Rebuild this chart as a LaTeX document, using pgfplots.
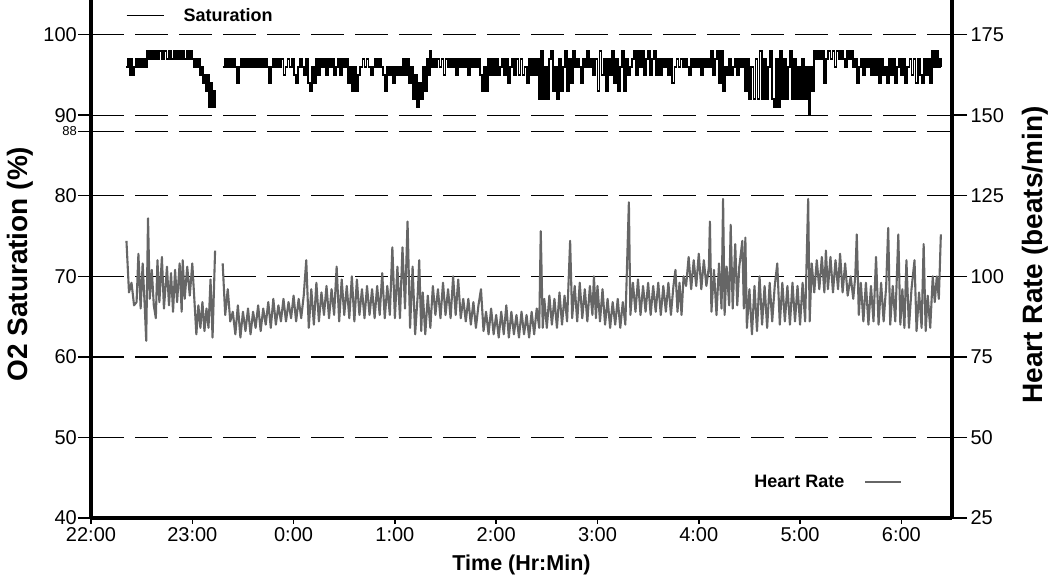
\documentclass[border=0pt]{standalone}
\usepackage{fontspec}
\setmainfont{Liberation Sans}
\usepackage{pgfplots}
\pgfplotsset{compat=1.18}

\begin{document}
\begin{tikzpicture}
\useasboundingbox (0,0) rectangle (1050pt,577pt);

% left axis: saturation, dashed reference lines
\begin{axis}[
  at={(91pt,59pt)}, anchor=south west,
  scale only axis, width=861pt, height=518pt,
  xmin=0, xmax=8.5, ymin=40, ymax=104.3,
  axis x line=none, xtick=\empty,
  axis y line*=left,
  axis line style={line width=3.2pt, -},
  ytick={40,50,...,100},
  extra y ticks={88},
  extra y tick style={grid=major, tick label style={font=\fontsize{13}{14}\selectfont}},
  ymajorgrids,
  major grid style={black, line width=1.3pt, dash pattern=on 33pt off 11pt},
  tick align=outside, major tick length=13pt,
  tick style={black, line width=1.5pt},
  tick label style={font=\fontsize{20}{22}\selectfont},
  yticklabel style={inner sep=1pt},
  /pgf/number format/assume math mode=true,
  ylabel={O2 Saturation (\%)},
  ylabel style={font=\bfseries\fontsize{28}{30}\selectfont, at={(axis description cs:-0.0825,0.49)}, anchor=center},
  unbounded coords=jump,
  legend style={at={(axis description cs:0.0407,0.970)}, anchor=west, draw=none, fill=none,
    inner sep=0pt, outer sep=0pt, nodes={inner sep=0pt}, font=\bfseries\fontsize{18}{20}\selectfont},
  legend image code/.code={\draw[#1, line width=1.3pt] (0pt,0pt) -- (37pt,0pt); \path[draw=none] (0pt,0pt) -- (57pt,0pt);},
]
\addplot[const plot, black, line width=1.9pt] coordinates {
(0.350,96) (0.365,97) (0.380,95) (0.395,97) (0.410,95) (0.425,96) (0.440,97) (0.460,96) (0.480,97) (0.500,96)
(0.520,97) (0.540,96) (0.555,98) (0.575,97) (0.595,98) (0.615,97) (0.635,98) (0.655,97) (0.675,98) (0.700,97)
(0.720,98) (0.745,97) (0.770,98) (0.790,97) (0.815,98) (0.840,97) (0.860,98) (0.880,97) (0.900,98) (0.920,97)
(0.945,98) (0.965,97) (0.985,98) (1.000,97) (1.015,96) (1.030,97) (1.045,96) (1.060,97) (1.075,95) (1.090,96)
(1.105,94) (1.120,95) (1.135,93) (1.150,95) (1.165,91) (1.180,94) (1.195,91) (1.210,93) (1.225,91) (1.235,91)
(1.260,nan)
(1.30,96) (1.32,97) (1.34,96) (1.36,97) (1.38,96) (1.40,97) (1.42,96) (1.44,94) (1.46,96) (1.48,97)
(1.50,96) (1.52,97) (1.54,96) (1.56,97) (1.58,96) (1.60,97) (1.62,96) (1.64,97) (1.66,96) (1.68,97)
(1.70,96) (1.72,97) (1.74,96) (1.76,94) (1.78,96) (1.80,97) (1.82,96) (1.84,97) (1.86,96) (1.88,97)
(1.90,95) (1.92,96) (1.94,97) (1.96,96) (1.98,97) (2.00,95) (2.02,94) (2.04,96) (2.06,97) (2.08,96)
(2.10,95) (2.12,97) (2.14,94) (2.16,93) (2.18,96) (2.20,94) (2.22,97) (2.24,95) (2.26,97) (2.28,96)
(2.30,97) (2.32,95) (2.34,97) (2.36,96) (2.38,97) (2.40,95) (2.42,96) (2.44,97) (2.46,95) (2.48,97)
(2.50,96) (2.52,97) (2.54,94) (2.56,96) (2.58,93) (2.60,96) (2.62,93) (2.64,95) (2.66,96) (2.68,97)
(2.70,96) (2.72,97) (2.74,96) (2.76,95) (2.78,96) (2.80,97) (2.82,96) (2.84,97) (2.86,96) (2.88,95)
(2.90,93) (2.92,96) (2.94,95) (2.96,96) (2.98,94) (3.00,96) (3.02,95) (3.04,96) (3.06,95) (3.08,97)
(3.10,95) (3.12,97) (3.14,94) (3.16,96) (3.18,92) (3.20,95) (3.22,91) (3.24,94) (3.26,92) (3.28,96)
(3.30,93) (3.32,97) (3.34,95) (3.35,98) (3.36,96) (3.38,97) (3.40,96) (3.42,97) (3.44,96) (3.46,97)
(3.48,95) (3.50,97) (3.52,96) (3.54,97) (3.56,96) (3.58,97) (3.60,95) (3.62,97) (3.64,96) (3.66,97)
(3.68,96) (3.70,97) (3.72,95) (3.74,97) (3.76,96) (3.78,97) (3.80,96) (3.82,97) (3.84,95) (3.86,93)
(3.88,96) (3.90,93) (3.92,97) (3.94,95) (3.96,97) (3.98,95) (4.00,97) (4.02,95) (4.04,96) (4.06,97)
(4.08,95) (4.10,97) (4.12,94) (4.14,96) (4.16,97) (4.18,95) (4.20,97) (4.22,95) (4.24,97) (4.26,95)
(4.28,96) (4.30,94) (4.32,97) (4.34,95) (4.36,97) (4.38,95) (4.40,97) (4.42,92) (4.44,98) (4.46,92)
(4.48,96) (4.50,92) (4.52,97) (4.54,98) (4.56,93) (4.58,96) (4.60,92) (4.62,97) (4.64,93) (4.66,96)
(4.68,98) (4.70,93) (4.72,97) (4.74,94) (4.76,98) (4.78,96) (4.80,97) (4.82,96) (4.84,94) (4.86,97)
(4.88,96) (4.90,98) (4.92,96) (4.94,97) (4.96,95) (4.98,97) (5.00,93) (5.02,98) (5.04,95) (5.06,97)
(5.08,93) (5.10,97) (5.12,95) (5.14,98) (5.16,94) (5.18,97) (5.20,93) (5.22,96) (5.24,98) (5.26,93)
(5.28,97) (5.30,95) (5.32,96) (5.34,97) (5.36,98) (5.38,95) (5.40,98) (5.42,96) (5.44,98) (5.46,95)
(5.48,97) (5.50,98) (5.52,95) (5.54,97) (5.56,98) (5.58,95) (5.60,97) (5.62,95) (5.64,97) (5.66,96)
(5.68,97) (5.70,95) (5.72,97) (5.74,94) (5.76,96) (5.78,97) (5.80,96) (5.82,97) (5.84,96) (5.86,97)
(5.88,96) (5.90,95) (5.92,97) (5.94,96) (5.96,97) (5.98,96) (6.00,97) (6.02,95) (6.04,97) (6.06,96)
(6.08,97) (6.10,96) (6.12,98) (6.14,95) (6.16,97) (6.18,98) (6.20,94) (6.22,98) (6.24,93) (6.26,96)
(6.28,95) (6.30,97) (6.32,95) (6.34,96) (6.36,97) (6.38,95) (6.40,97) (6.42,96) (6.44,97) (6.46,93)
(6.48,97) (6.50,92) (6.52,96) (6.54,92) (6.56,97) (6.58,92) (6.60,98) (6.62,92) (6.64,97) (6.66,92)
(6.68,96) (6.70,98) (6.72,92) (6.74,91) (6.76,97) (6.78,91) (6.80,98) (6.82,92) (6.84,97) (6.86,92)
(6.88,96) (6.90,98) (6.92,92) (6.94,97) (6.96,92) (6.98,96) (7.00,92) (7.02,97) (7.04,92) (7.06,96)
(7.08,92) (7.09,90) (7.10,96) (7.12,93) (7.14,98) (7.16,97) (7.18,98) (7.20,97) (7.22,98) (7.24,94)
(7.26,97) (7.28,98) (7.30,97) (7.32,98) (7.34,96) (7.36,98) (7.38,97) (7.40,98) (7.42,97) (7.44,96)
(7.46,98) (7.48,97) (7.50,98) (7.52,96) (7.54,97) (7.56,94) (7.58,96) (7.60,97) (7.62,95) (7.64,97)
(7.66,96) (7.68,97) (7.70,95) (7.72,97) (7.74,95) (7.76,97) (7.78,94) (7.80,97) (7.82,95) (7.84,96)
(7.86,94) (7.88,97) (7.90,95) (7.92,97) (7.94,94) (7.96,96) (7.98,97) (8.00,95) (8.02,97) (8.04,94)
(8.06,96) (8.08,97) (8.10,95) (8.12,97) (8.14,94) (8.16,97) (8.18,95) (8.20,94) (8.22,97) (8.24,95)
(8.26,97) (8.28,94) (8.30,98) (8.32,96) (8.34,98) (8.36,96) (8.38,97) (8.39,96)
};
\addlegendentry{Saturation}
\end{axis}

% time axis
\begin{axis}[
  at={(91pt,59pt)}, anchor=south west,
  scale only axis, width=861pt, height=518pt,
  xmin=0, xmax=8.5, ymin=0, ymax=1,
  axis y line=none, ytick=\empty,
  axis x line*=bottom,
  axis line style={line width=3.2pt, -},
  xtick={0,1,...,8},
  xticklabels={22:00,23:00,0:00,1:00,2:00,3:00,4:00,5:00,6:00},
  tick align=outside, major tick length=6pt,
  tick style={black, line width=1.5pt},
  tick label style={font=\fontsize{20}{22}\selectfont},
  xlabel={Time (Hr:Min)},
  xlabel style={font=\bfseries\fontsize{21.5}{24}\selectfont, at={(axis description cs:0.5,-0.0907)}, anchor=center},
]
\end{axis}

% right axis: heart rate
\begin{axis}[
  at={(91pt,59pt)}, anchor=south west,
  scale only axis, width=861pt, height=518pt,
  xmin=0, xmax=8.5, ymin=25, ymax=185.75,
  axis x line=none, xtick=\empty,
  axis y line*=right,
  axis line style={line width=3.2pt, -},
  ytick={25,50,...,175},
  tick align=outside, major tick length=15pt,
  tick style={black, line width=1.5pt},
  tick label style={font=\fontsize{20}{22}\selectfont},
  /pgf/number format/assume math mode=true,
  ylabel={Heart Rate (beats/min)},
  ylabel style={font=\bfseries\fontsize{28}{30}\selectfont, at={(axis description cs:1.0964,0.508)}, anchor=center},
  unbounded coords=jump,
  legend plot pos=right,
  legend style={at={(axis description cs:0.9419,0.0695)}, anchor=east, draw=none, fill=none,
    inner sep=0pt, outer sep=0pt, nodes={inner sep=0pt}, font=\bfseries\fontsize{18}{20}\selectfont},
  legend image code/.code={\path[draw=none] (-21pt,0pt) -- (0pt,0pt); \draw[#1, line width=1.2pt] (0pt,0pt) -- (36pt,0pt);},
]
\addplot[black!60, line width=2.1pt, line join=round] coordinates {
(0.350,111) (0.375,95) (0.400,98) (0.425,91) (0.450,92) (0.468,107) (0.490,90) (0.510,104) (0.530,91) (0.545,80)
(0.563,118) (0.580,93) (0.600,102) (0.620,91) (0.640,87) (0.656,105) (0.675,92) (0.700,106) (0.720,90) (0.750,103)
(0.770,91) (0.790,101) (0.810,89) (0.830,102) (0.850,92) (0.875,104) (0.895,89) (0.905,105) (0.925,93) (0.950,103)
(0.975,94) (1.000,104) (1.020,93) (1.040,82) (1.060,91) (1.080,84) (1.100,92) (1.120,83) (1.140,90) (1.160,84)
(1.180,99) (1.200,81) (1.225,108)
(1.260,nan)
(1.300,104) (1.325,88) (1.350,96) (1.375,86) (1.400,89) (1.425,82) (1.450,91) (1.475,81) (1.500,89) (1.525,83)
(1.550,90) (1.575,82) (1.600,89) (1.625,84) (1.650,91) (1.675,83) (1.700,90) (1.725,85) (1.750,92) (1.775,84)
(1.800,93) (1.825,85) (1.850,91) (1.875,86) (1.900,93) (1.925,86) (1.950,92) (1.975,87) (2.000,94) (2.025,86)
(2.050,93) (2.075,87) (2.100,94) (2.125,105) (2.150,84) (2.175,96) (2.200,85) (2.225,98) (2.250,86) (2.275,95)
(2.300,88) (2.325,97) (2.350,87) (2.375,96) (2.400,88) (2.425,103) (2.450,86) (2.475,99) (2.500,88) (2.525,97)
(2.550,87) (2.575,100) (2.600,86) (2.625,99) (2.650,88) (2.675,96) (2.700,87) (2.725,97) (2.750,88) (2.775,96)
(2.800,87) (2.825,97) (2.850,88) (2.875,101) (2.900,87) (2.925,97) (2.950,88) (2.975,109) (3.000,87) (3.025,103)
(3.050,87) (3.075,109) (3.100,90) (3.125,117) (3.150,84) (3.175,103) (3.200,82) (3.225,94) (3.240,105) (3.260,83)
(3.275,95) (3.300,82) (3.325,94) (3.350,84) (3.375,97) (3.400,88) (3.425,96) (3.450,87) (3.475,98) (3.500,88)
(3.525,96) (3.550,87) (3.575,100) (3.600,88) (3.625,99) (3.650,87) (3.675,93) (3.700,86) (3.725,93) (3.750,85)
(3.775,92) (3.800,84) (3.825,91) (3.850,96) (3.875,83) (3.900,89) (3.925,82) (3.950,90) (3.975,82) (4.000,88)
(4.025,81) (4.050,89) (4.075,82) (4.100,91) (4.125,81) (4.150,89) (4.175,82) (4.200,88) (4.225,81) (4.250,89)
(4.275,82) (4.300,88) (4.325,81) (4.350,89) (4.375,82) (4.400,90) (4.425,84) (4.440,114) (4.460,84) (4.475,93)
(4.500,84) (4.525,94) (4.550,85) (4.575,93) (4.600,84) (4.625,95) (4.650,85) (4.675,94) (4.700,86) (4.730,111)
(4.750,87) (4.775,97) (4.800,86) (4.825,98) (4.850,87) (4.875,96) (4.900,86) (4.925,97) (4.950,88) (4.965,100)
(4.985,87) (5.000,97) (5.025,86) (5.050,96) (5.075,85) (5.100,93) (5.125,84) (5.150,92) (5.175,85) (5.200,93)
(5.225,84) (5.250,92) (5.275,85) (5.310,123) (5.325,88) (5.350,98) (5.375,89) (5.400,99) (5.425,88) (5.450,97)
(5.475,89) (5.500,98) (5.525,88) (5.550,97) (5.575,89) (5.600,98) (5.625,88) (5.650,97) (5.675,89) (5.700,98)
(5.725,88) (5.750,97) (5.770,102) (5.790,89) (5.810,98) (5.830,88) (5.850,100) (5.875,97) (5.900,106) (5.925,96)
(5.950,105) (5.975,97) (6.000,107) (6.025,96) (6.050,105) (6.075,97) (6.100,103) (6.110,117) (6.125,89) (6.150,102)
(6.175,88) (6.200,104) (6.225,90) (6.240,124) (6.255,88) (6.275,103) (6.300,91) (6.315,116) (6.335,90) (6.360,110)
(6.380,91) (6.400,103) (6.430,111) (6.445,90) (6.460,112) (6.475,84) (6.500,96) (6.525,82) (6.550,97) (6.575,83)
(6.600,100) (6.625,85) (6.650,97) (6.675,84) (6.700,98) (6.725,86) (6.750,97) (6.775,104) (6.800,85) (6.825,98)
(6.850,86) (6.875,97) (6.900,85) (6.925,98) (6.950,86) (6.975,97) (7.000,85) (7.025,98) (7.050,86) (7.080,124)
(7.095,86) (7.115,104) (7.140,95) (7.165,105) (7.190,96) (7.215,106) (7.240,95) (7.255,108) (7.275,96) (7.300,106)
(7.325,95) (7.350,105) (7.375,96) (7.395,107) (7.420,95) (7.445,104) (7.470,94) (7.500,100) (7.525,93) (7.545,100)
(7.560,113) (7.580,88) (7.600,98) (7.625,86) (7.650,98) (7.675,85) (7.700,97) (7.725,86) (7.750,106) (7.775,85)
(7.800,98) (7.825,86) (7.850,97) (7.870,115) (7.890,85) (7.915,97) (7.940,86) (7.970,113) (7.990,85) (8.010,96)
(8.030,84) (8.050,105) (8.075,84) (8.100,96) (8.130,105) (8.150,83) (8.175,95) (8.200,84) (8.220,110) (8.240,83)
(8.260,94) (8.285,84) (8.310,100) (8.330,92) (8.350,100) (8.370,93) (8.390,113)
};
\addlegendentry{Heart Rate}
\end{axis}
\end{tikzpicture}
\end{document}
